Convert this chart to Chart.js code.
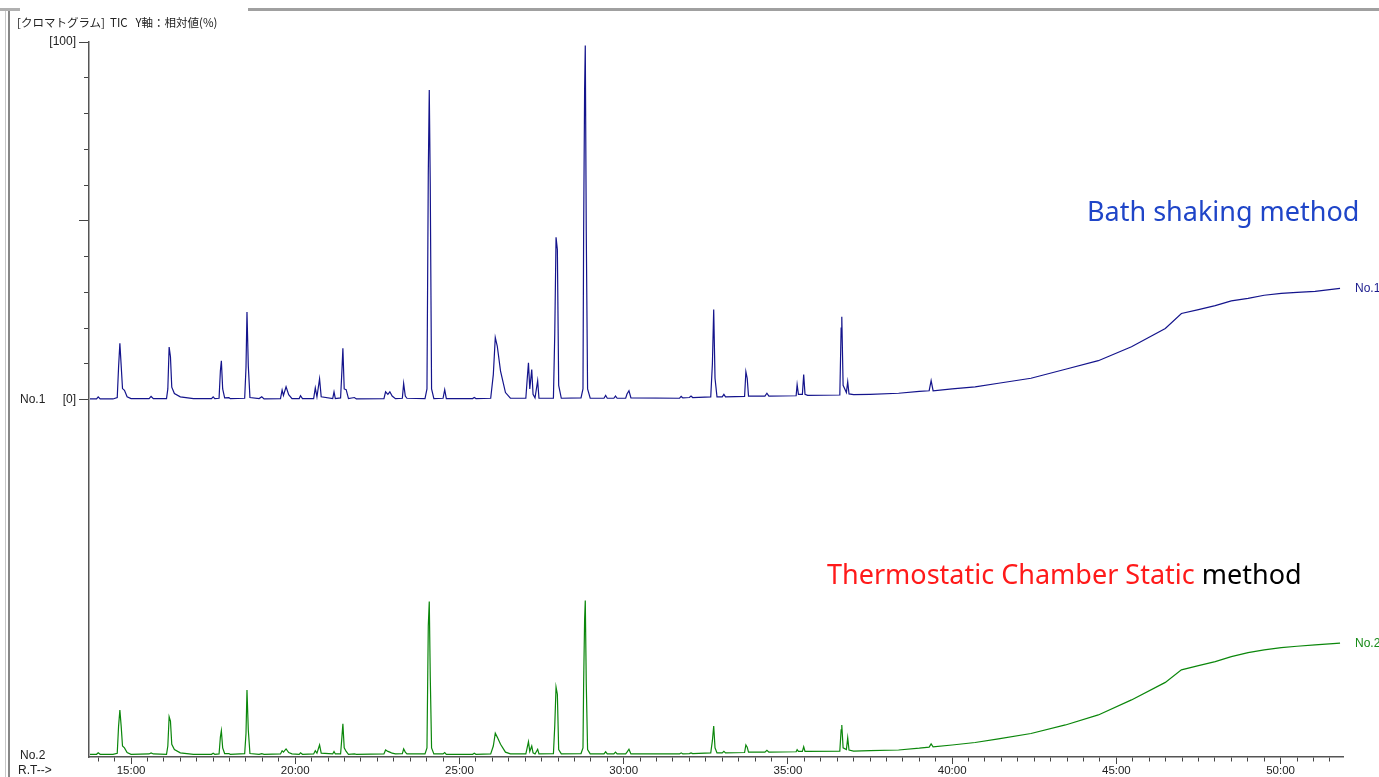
<!DOCTYPE html>
<html lang="ja">
<head>
<meta charset="utf-8">
<title>TIC クロマトグラム</title>
<script src="https://cdn.jsdelivr.net/npm/chart.js@4.4.1/dist/chart.umd.min.js"></script>
<style>
  html, body { margin: 0; padding: 0; background: #fff; }
  body { width: 1379px; height: 777px; position: relative; overflow: hidden; font-family: "Liberation Sans", Arial, sans-serif; }
  #chart { position: absolute; left: 0; top: 0; }
  .txt { position: absolute; white-space: nowrap; line-height: 1; }
  .small { font-size: 12px; color: #222; }
  .big { font-family: "Noto Sans", "Open Sans", sans-serif; font-size: 27px; }
  .frame-top-a { position: absolute; left: 0; top: 8px; width: 20px; height: 3px; background: #b0b0b0; }
  .frame-top-b { position: absolute; left: 248px; top: 8px; right: 0; height: 3px; background: #a0a0a0; }
  .frame-left { position: absolute; left: 5px; top: 11px; bottom: 0; width: 2px; border-left: 1px solid #c8c8c8; border-right: 2px solid #888; }
</style>
</head>
<body>
<div class="frame-top-a"></div>
<div class="frame-top-b"></div>
<div class="frame-left"></div>

<canvas id="chart" width="1379" height="777"></canvas>

<div class="txt small" style="left:17px; top:17px; font-family:'Noto Sans CJK JP', sans-serif; font-size:11.5px;">[クロマトグラム]&nbsp;&nbsp;TIC&nbsp;&nbsp;&nbsp;Y軸：相対値(%)</div>
<div class="txt small" style="left:20px; top:393px;">No.1</div>
<div class="txt small" style="left:20px; top:749px;">No.2</div>
<div class="txt small" style="left:18px; top:764px;">R.T--&gt;</div>
<div class="txt small" style="left:1355px; top:282px; color:#1a1a8c;">No.1</div>
<div class="txt small" style="left:1355px; top:637px; color:#168a16;">No.2</div>
<div class="txt big" style="left:1087px; top:197px; color:#1f45c8;">Bath shaking method</div>
<div class="txt big" style="left:827px; top:560px; color:#000;"><span style="color:#ff1a1a;">Thermostatic Chamber Static</span> method</div>

<script>
// Temps de rétention (min) communs aux deux chromatogrammes
const rtMin = [
  13.75, 13.95, 14.00, 14.06, 14.45, 14.58, 14.62, 14.66, 14.70, 14.74, 14.80, 14.88, 15.00,
  15.55, 15.61, 15.68, 16.08, 16.12, 16.16, 16.20, 16.24, 16.32, 16.50, 16.90,
  17.45, 17.50, 17.55, 17.68, 17.72, 17.75, 17.79, 17.85, 17.98, 18.02, 18.46, 18.50, 18.53, 18.57, 18.62, 18.90, 18.98, 19.05,
  19.55, 19.60, 19.64, 19.72, 19.80, 19.90, 20.12, 20.16, 20.22, 20.56, 20.61, 20.66, 20.74, 20.79, 21.14, 21.18, 21.22, 21.38, 21.42, 21.45, 21.49, 21.55, 21.62, 21.80, 21.86,
  22.70, 22.75, 22.82, 22.88, 22.95, 23.05, 23.26, 23.30, 23.35, 23.40, 23.95, 24.01, 24.05, 24.08, 24.11, 24.15, 24.22, 24.50, 24.55, 24.60,
  25.40, 25.45, 25.50, 25.95, 26.03, 26.09, 26.15, 26.25, 26.40, 26.55, 27.02, 27.06, 27.10, 27.14, 27.20, 27.24, 27.30, 27.38, 27.42, 27.86, 27.90, 27.94, 27.98, 28.02, 28.10,
  28.70, 28.76, 28.78, 28.81, 28.83, 28.86, 28.90, 28.98, 29.40, 29.45, 29.50, 29.70, 29.75, 29.80, 30.06, 30.10, 30.16, 30.22,
  31.70, 31.75, 31.80, 32.00, 32.05, 32.10, 32.65, 32.70, 32.74, 32.78, 32.84, 33.00, 33.05, 33.10, 33.68, 33.72, 33.76, 33.80, 34.30, 34.36, 34.42,
  35.25, 35.28, 35.32, 35.44, 35.48, 35.52, 35.60, 36.58, 36.62, 36.64, 36.68, 36.78, 36.82, 36.86, 37.00, 37.50,
  38.37, 39.00, 39.30, 39.36, 39.42, 40.00, 40.70, 41.41, 42.40, 43.45, 44.45, 45.46, 46.49, 46.98, 47.50, 48.01, 48.50, 49.01, 49.50, 50.02, 50.50, 51.05, 51.81
];

// No.1 : Bath shaking method (intensité relative %)
const bathShaking = [
  0.2, 0.2, 0.8, 0.2, 0.2, 0.6, 9.0, 15.8, 9.5, 3.1, 2.6, 0.8, 0.3,
  0.3, 0.9, 0.3, 0.3, 3.0, 14.7, 12.0, 3.5, 1.7, 0.8, 0.3,
  0.3, 0.8, 0.3, 0.4, 8.0, 10.9, 3.0, 0.5, 0.6, 0.3, 0.4, 9.0, 24.5, 9.5, 0.6, 0.3, 0.8, 0.2,
  0.3, 2.7, 1.2, 3.6, 1.4, 0.3, 0.3, 1.1, 0.3, 0.3, 3.3, 0.8, 5.8, 0.8, 0.3, 2.2, 0.3, 0.5, 8.0, 14.4, 3.0, 2.8, 0.3, 0.6, 0.2,
  0.3, 2.2, 1.5, 2.2, 1.0, 0.3, 0.4, 4.5, 1.0, 0.4, 0.3, 3.0, 63.0, 86.6, 60.0, 3.0, 0.3, 0.4, 2.8, 0.3,
  0.3, 0.6, 0.3, 0.4, 7.0, 17.4, 15.0, 8.0, 2.0, 0.4, 0.4, 5.5, 10.3, 3.0, 8.4, 1.5, 0.5, 5.3, 0.4, 0.4, 18.0, 45.4, 42.0, 4.0, 0.4,
  0.5, 3.0, 47.0, 87.0, 99.0, 47.0, 3.0, 0.4, 0.4, 1.2, 0.4, 0.4, 1.0, 0.4, 0.4, 1.6, 2.5, 0.5,
  0.4, 0.9, 0.5, 0.6, 1.0, 0.6, 0.8, 10.0, 25.2, 6.0, 0.8, 0.8, 1.5, 0.8, 0.9, 7.8, 6.0, 1.0, 1.0, 1.8, 1.0,
  1.1, 4.2, 1.5, 1.5, 7.0, 1.5, 1.2, 1.3, 20.0, 23.2, 4.0, 2.0, 5.0, 1.6, 1.4, 1.5,
  1.8, 2.3, 2.5, 5.3, 2.5, 3.0, 3.6, 4.6, 6.0, 8.5, 10.9, 14.8, 19.9, 24.1, 25.2, 26.3, 27.6, 28.3, 29.2, 29.7, 30.0, 30.3, 31.1
];

// No.2 : Thermostatic Chamber Static method (intensité relative %)
const thermoStatic = [
  0.2, 0.2, 0.6, 0.2, 0.2, 0.5, 8.0, 12.6, 8.0, 2.5, 2.0, 0.7, 0.2,
  0.3, 0.6, 0.3, 0.2, 2.5, 10.7, 9.5, 3.0, 1.5, 0.6, 0.2,
  0.2, 0.5, 0.2, 0.3, 5.0, 6.8, 2.0, 0.4, 0.4, 0.2, 0.4, 6.0, 18.2, 7.0, 0.4, 0.2, 0.4, 0.2,
  0.3, 1.2, 0.8, 1.7, 0.7, 0.3, 0.2, 0.6, 0.2, 0.3, 1.2, 0.5, 2.8, 0.5, 0.3, 1.0, 0.3, 0.3, 5.0, 8.7, 2.0, 1.0, 0.2, 0.3, 0.2,
  0.3, 1.4, 1.0, 0.8, 0.5, 0.3, 0.4, 1.7, 0.8, 0.3, 0.3, 2.0, 36.0, 42.9, 22.0, 2.0, 0.3, 0.3, 0.7, 0.2,
  0.2, 0.5, 0.2, 0.3, 2.5, 6.1, 5.0, 3.0, 0.8, 0.3, 0.3, 2.0, 3.7, 1.0, 2.5, 0.6, 0.3, 1.6, 0.3, 0.4, 8.0, 19.0, 17.0, 1.5, 0.3,
  0.4, 2.0, 20.0, 38.0, 43.2, 20.0, 1.5, 0.3, 0.3, 0.9, 0.3, 0.3, 0.8, 0.3, 0.3, 0.8, 1.6, 0.3,
  0.3, 0.6, 0.3, 0.4, 0.6, 0.4, 0.6, 4.0, 8.1, 2.0, 0.6, 0.6, 1.0, 0.6, 0.7, 2.8, 2.2, 0.8, 0.8, 1.3, 0.8,
  0.9, 1.5, 1.0, 1.0, 2.3, 1.0, 1.0, 1.1, 7.0, 8.4, 2.0, 1.5, 4.8, 1.4, 1.1, 1.2,
  1.4, 1.9, 2.2, 3.1, 2.3, 2.8, 3.5, 4.5, 6.0, 8.4, 11.2, 15.4, 20.3, 23.8, 25.0, 26.1, 27.5, 28.6, 29.4, 30.0, 30.4, 30.8, 31.3
];

// Graduations des axes
const yTicks = [0, 10, 20, 30, 40, 50, 60, 70, 80, 90, 100];
const yMajorTicks = [0, 50, 100];
const yTickLabels = { 0: '[0]', 100: '[100]' };
const xMajorTicks = [15, 20, 25, 30, 35, 40, 45, 50];
const xTickLabels = ['15:00', '20:00', '25:00', '30:00', '35:00', '40:00', '45:00', '50:00'];

function toPoints(values) {
    return rtMin.map(function(t, i) {
        return { x: t, y: values[i] };
    });
}

const ctx = document.getElementById('chart').getContext('2d');

new Chart(ctx, {
    type: 'line',
    data: {
        datasets: [{
            label: 'No.1',
            data: toPoints(bathShaking),
            yAxisID: 'y',
            borderColor: '#14148c',
            borderWidth: 1.2,
            pointRadius: 0,
            tension: 0,
            fill: false
        }, {
            label: 'No.2',
            data: toPoints(thermoStatic),
            yAxisID: 'y2',
            borderColor: '#0b870b',
            borderWidth: 1.2,
            pointRadius: 0,
            tension: 0,
            fill: false
        }]
    },
    options: {
        responsive: false,
        animation: false,
        layout: {
            padding: { top: 42, right: 36, left: 0, bottom: 0 }
        },
        plugins: {
            legend: { display: false },
            tooltip: { enabled: false }
        },
        scales: {
            x: {
                type: 'linear',
                min: 13.72,
                max: 51.9,
                afterFit: function(scale) { scale.height = 20; },
                afterBuildTicks: function(scale) {
                    const ticks = [];
                    for (let v = 14; v <= 51.5; v += 0.5) {
                        ticks.push({ value: v });
                    }
                    scale.ticks = ticks;
                },
                border: { display: true, color: '#555', width: 1.5 },
                grid: {
                    drawOnChartArea: false,
                    drawTicks: true,
                    tickLength: 7,
                    tickColor: '#444',
                    tickWidth: 1,
                    tickBorderDash: function(c) {
                        return xMajorTicks.indexOf(c.tick.value) >= 0 ? [] : [4, 4];
                    }
                },
                ticks: {
                    autoSkip: false,
                    maxRotation: 0,
                    padding: 0,
                    color: '#222',
                    font: { family: 'Liberation Sans', size: 11.5 },
                    callback: function(value) {
                        const i = xMajorTicks.indexOf(value);
                        return i >= 0 ? xTickLabels[i] : '';
                    }
                }
            },
            y: {
                type: 'linear',
                position: 'left',
                min: -99.9,
                max: 100,
                afterFit: function(scale) { scale.width = 89; },
                afterBuildTicks: function(scale) {
                    scale.ticks = yTicks.map(function(v) { return { value: v }; });
                },
                border: { display: true, color: '#555', width: 1.5 },
                grid: {
                    drawOnChartArea: false,
                    drawTicks: true,
                    tickLength: 10,
                    tickColor: '#444',
                    tickWidth: 1,
                    tickBorderDash: function(c) {
                        return yMajorTicks.indexOf(c.tick.value) >= 0 ? [] : [5, 5];
                    },
                    tickBorderDashOffset: 5
                },
                ticks: {
                    autoSkip: false,
                    padding: 3,
                    color: '#222',
                    font: { family: 'Liberation Sans', size: 12 },
                    callback: function(value) {
                        return yTickLabels[value] || '';
                    }
                }
            },
            y2: {
                type: 'linear',
                display: false,
                min: -0.56,
                max: 199.34
            }
        }
    }
});
</script>
</body>
</html>
